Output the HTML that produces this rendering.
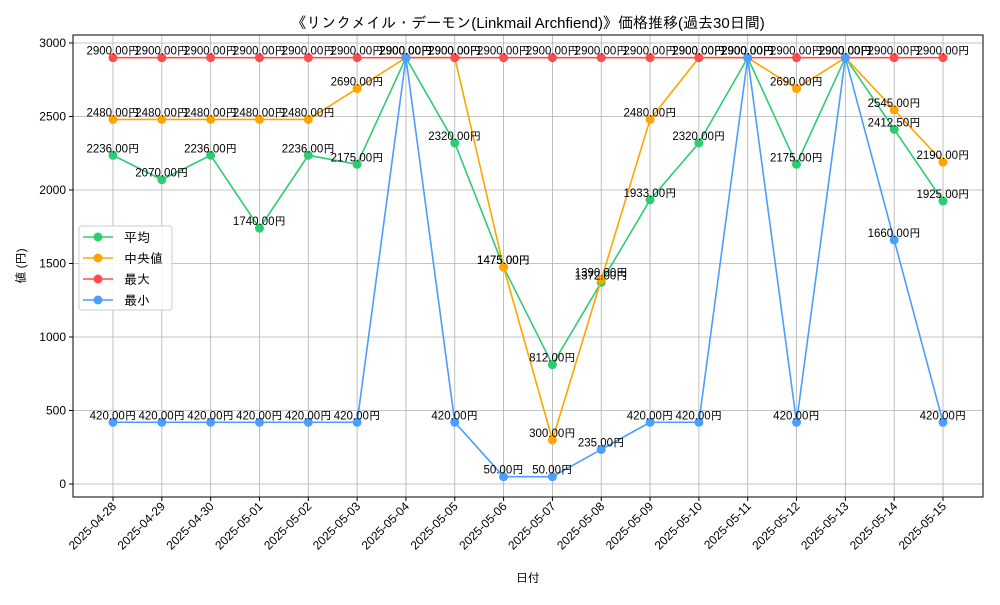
<!DOCTYPE html>
<html><head><meta charset="utf-8"><style>
body{margin:0;background:#fff}
svg text{font-family:"Liberation Sans","IPAGothic","Noto Sans CJK JP",sans-serif}
</style></head><body>
<svg id="c" width="1000" height="600" xmlns="http://www.w3.org/2000/svg"></svg>
<script>
const dates=["2025-04-28","2025-04-29","2025-04-30","2025-05-01","2025-05-02","2025-05-03","2025-05-04","2025-05-05","2025-05-06","2025-05-07","2025-05-08","2025-05-09","2025-05-10","2025-05-11","2025-05-12","2025-05-13","2025-05-14","2025-05-15"];
const avgVals=[2236,2070,2236,1740,2236,2175,2900,2320,1475,812,1372,1933,2320,2900,2175,2900,2412.5,1925];
const medVals=[2480,2480,2480,2480,2480,2690,2900,2900,1475,300,1390,2480,2900,2900,2690,2900,2545,2190];
const maxVals=[2900,2900,2900,2900,2900,2900,2900,2900,2900,2900,2900,2900,2900,2900,2900,2900,2900,2900];
const minVals=[420,420,420,420,420,420,2900,420,50,50,235,420,420,2900,420,2900,1660,420];
const yTicks=[0,500,1000,1500,2000,2500,3000];
const series=[{n:"平均",k:"avg",c:"#2ecc71",v:avgVals},{n:"中央値",k:"median",c:"#ffa500",v:medVals},{n:"最大",k:"max",c:"#ff4d4d",v:maxVals},{n:"最小",k:"min",c:"#4a9eff",v:minVals}];
const L=73,R=983,T=35,B=497;
const xs=i=>113+i*(943-113)/(dates.length-1);
const ys=v=>484-v*(441/3000);
const s=document.getElementById('c');const NS="http://www.w3.org/2000/svg";
function el(t,a,txt){const e=document.createElementNS(NS,t);for(const k in a)e.setAttribute(k,a[k]);if(txt!=null)e.textContent=txt;s.appendChild(e);return e;}
let e;
dates.forEach((d,i)=>{const x=xs(i);
e=el('line',{x1:x,x2:x,y1:T,y2:B,stroke:'#b0b0b0','stroke-width':0.8});
e=el('line',{x1:x,x2:x,y1:B,y2:B+4,stroke:'#000'});
e=el('text',{x:x+4,y:B+10,'font-size':12,'text-anchor':'end',transform:`rotate(-45 ${x+4} ${B+10})`},d);});
yTicks.forEach(v=>{const y=ys(v);
e=el('line',{x1:L,x2:R,y1:y,y2:y,stroke:'#b0b0b0','stroke-width':0.8});
e=el('line',{x1:L-4,x2:L,y1:y,y2:y,stroke:'#000'});
e=el('text',{x:L-7,y:y+4,'font-size':12,'text-anchor':'end'},v);});
e=el('rect',{x:L,y:T,width:R-L,height:B-T,fill:'none',stroke:'#000','stroke-width':1});
series.forEach(sr=>{
e=el('polyline',{points:sr.v.map((v,i)=>xs(i)+','+ys(v)).join(' '),fill:'none',stroke:sr.c,'stroke-width':1.6});
sr.v.forEach((v,i)=>{e=el('circle',{cx:xs(i),cy:ys(v),r:4.5,fill:sr.c});});});
series.forEach(sr=>{sr.v.forEach((v,i)=>{e=el('text',{x:xs(i),y:ys(v)-3,'font-size':11.5,'text-anchor':'middle'},v.toFixed(2)+'円');});});
e=el('text',{x:528,y:28,'font-size':15,'text-anchor':'middle'},'《リンクメイル・デーモン(Linkmail Archfiend)》価格推移(過去30日間)');
e=el('text',{x:528,y:582,'font-size':12,'text-anchor':'middle'},'日付');
e=el('text',{x:25,y:266,'font-size':12,'text-anchor':'middle',transform:'rotate(-90 25 266)'},'値 (円)');
e=el('rect',{x:79,y:226,width:93,height:84,rx:3,fill:'#fff','fill-opacity':0.85,stroke:'#ccc'});
series.forEach((sr,j)=>{const y=237+j*21;
e=el('line',{x1:83,x2:113,y1:y,y2:y,stroke:sr.c,'stroke-width':1.6});
e=el('circle',{cx:98,cy:y,r:4.5,fill:sr.c});
e=el('text',{x:124,y:y+5,'font-size':13},sr.n);});
</script>
</body></html>
